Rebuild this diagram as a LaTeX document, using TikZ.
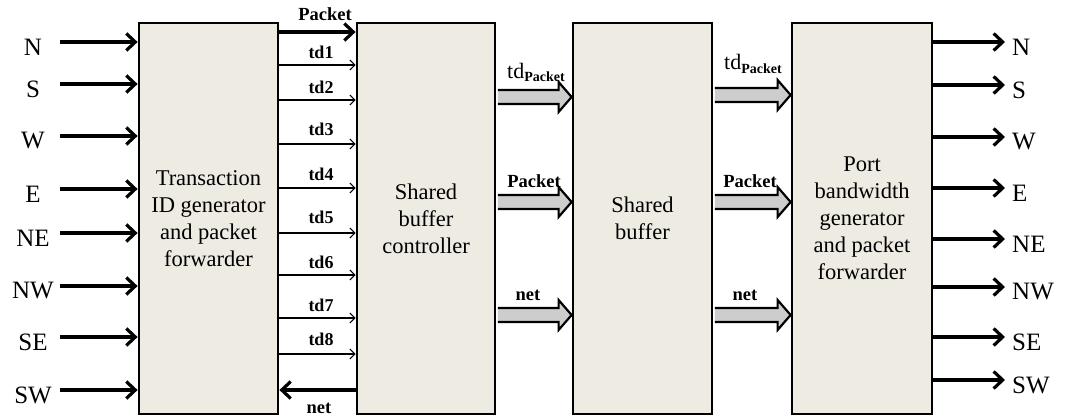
\documentclass[tikz,border=0pt]{standalone}
\usepackage{fontspec}
\setmainfont{Liberation Serif}
\usetikzlibrary{arrows.meta,calc}
\definecolor{boxfill}{RGB}{238,235,226}
\definecolor{arrfill}{RGB}{205,205,205}
\newcommand\blockarrow[3]{%
  \draw[blk] ($(#1.east |- 0,#3)+(1.4,-7)$) -- ($(#2.west |- 0,#3)+(-13,-7)$) -- ($(#2.west |- 0,#3)+(-13,-15)$) -- (#2.west |- 0,#3) -- ($(#2.west |- 0,#3)+(-13,15)$) -- ($(#2.west |- 0,#3)+(-13,7)$) -- ($(#1.east |- 0,#3)+(1.4,7)$);}
\newcommand\tdpk{td\raisebox{-0.35ex}{\fontsize{14}{14}\selectfont\bfseries Packet}}
\begin{document}
\begin{tikzpicture}[x=1pt,y=-1pt,
  box/.style={draw, line width=2.8pt, fill=boxfill, minimum width=#1, minimum height=391pt, align=center, font=\fontsize{22.5}{27}\selectfont, inner sep=0pt},
  thickarr/.style={line width=3.2pt, -{Straight Barb[length=9pt,width=17pt,line width=3.2pt]}},
  thinarr/.style={line width=1.1pt, -{Straight Barb[length=5pt,width=10pt,line width=1.1pt]}},
  blk/.style={draw, line width=2.2pt, fill=arrfill, line join=miter},
  dirlab/.style={font=\fontsize{25}{25}\selectfont, inner sep=0pt},
  tdlab/.style={font=\fontsize{18}{18}\selectfont\bfseries, inner sep=0pt},
  blab/.style={font=\fontsize{18.5}{18.5}\selectfont\bfseries, inner sep=0pt}]
\useasboundingbox (0,0) rectangle (1066,420);

\node[box=139pt] (b1) at (208.5,218.5) {Transaction\\ID generator\\and packet\\forwarder};
\node[box=138pt] (b2) at (426,218.5) {Shared\\buffer\\controller};
\node[box=139pt] (b3) at (642.5,218.5) {Shared\\buffer};
\node[box=140pt] (b4) at (862,218.5) {Port\\bandwidth\\generator\\and packet\\forwarder};

% inputs
\foreach \t/\y [count=\i] in {N/42,S/84,W/136,E/189,NE/233,NW/286,SE/337,SW/390}{
  \node[dirlab] (inl\i) at (33,\y+5) {\t};
  \coordinate (ins\i) at (60,\y);
  \draw[thickarr] (ins\i) -- (ins\i -| b1.west);
}
% outputs
\foreach \t/\y [count=\i] in {N/42,S/85,W/137,E/188,NE/239,NW/287,SE/337,SW/380}{
  \coordinate (oute\i) at (1005,\y);
  \draw[thickarr] (oute\i -| b4.east) -- (oute\i);
  \node[dirlab, anchor=west] (outl\i) at (1012,\y+5) {\t};
}

% b1 -> b2
\draw[thickarr] (b1.east |- 0,32) -- (b2.west |- 0,32);
\node[blab] (pkl) at (325,14) {Packet};
\foreach \t/\y/\ly [count=\i] in {td1/65/52,td2/100/87,td3/144/129,td4/188/174,td5/233/217,td6/275/262,td7/318/305,td8/354/339}{
  \coordinate (tdc\i) at (0,\y);
  \draw[thinarr] (b1.east |- tdc\i) -- (b2.west |- tdc\i);
  \node[tdlab] (tdl\i) at (321,\ly) {\t};
}
\draw[thickarr] (b2.west |- 0,390) -- (b1.east |- 0,390);
\node[blab] (netl) at (319,408) {net};

% b2 -> b3
\blockarrow{b2}{b3}{97}
\blockarrow{b2}{b3}{202}
\blockarrow{b2}{b3}{315}
\node[font=\fontsize{22}{22}\selectfont, inner sep=0pt, anchor=base] (tp1) at (536,78) {\tdpk};
\node[blab] (pk1) at (534,181) {Packet};
\node[blab] (nt1) at (528,295) {net};

% b3 -> b4
\blockarrow{b3}{b4}{95}
\blockarrow{b3}{b4}{202}
\blockarrow{b3}{b4}{315}
\node[font=\fontsize{22}{22}\selectfont, inner sep=0pt, anchor=base] (tp2) at (753,70) {\tdpk};
\node[blab] (pk2) at (750,181) {Packet};
\node[blab] (nt2) at (745,295) {net};
\end{tikzpicture}
\end{document}
